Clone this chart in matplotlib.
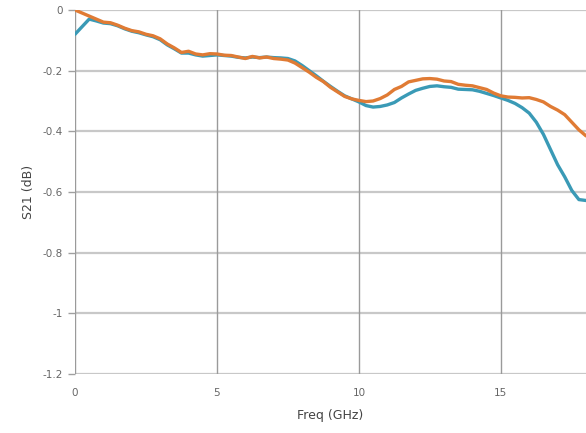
import matplotlib
matplotlib.use("Agg")
import matplotlib.pyplot as plt

freq = [0, 0.25, 0.5, 0.75, 1.0, 1.25, 1.5, 1.75, 2.0, 2.25, 2.5, 2.75, 3.0, 3.25, 3.5, 3.75,
        4.0, 4.25, 4.5, 4.75, 5.0, 5.25, 5.5, 5.75, 6.0, 6.25, 6.5, 6.75, 7.0, 7.25, 7.5, 7.75,
        8.0, 8.25, 8.5, 8.75, 9.0, 9.25, 9.5, 9.75, 10.0, 10.25, 10.5, 10.75, 11.0, 11.25, 11.5,
        11.75, 12.0, 12.25, 12.5, 12.75, 13.0, 13.25, 13.5, 13.75, 14.0, 14.25, 14.5, 14.75,
        15.0, 15.25, 15.5, 15.75, 16.0, 16.25, 16.5, 16.75, 17.0, 17.25, 17.5, 17.75, 18.0]

s21_orange = [0.0, -0.01, -0.02, -0.03, -0.04, -0.042, -0.05, -0.06, -0.068, -0.072, -0.08, -0.085,
              -0.095, -0.112, -0.125, -0.14, -0.136, -0.145, -0.148, -0.144, -0.145, -0.149, -0.15,
              -0.155, -0.16, -0.153, -0.158, -0.155, -0.16, -0.162, -0.165, -0.175, -0.19, -0.205,
              -0.222, -0.236, -0.255, -0.27, -0.285, -0.293, -0.298, -0.302, -0.3, -0.292, -0.28,
              -0.262, -0.252, -0.237, -0.232, -0.227, -0.226, -0.228, -0.234, -0.236, -0.245, -0.248,
              -0.25, -0.256, -0.262, -0.274, -0.283, -0.287, -0.288, -0.29, -0.289, -0.295, -0.303,
              -0.318, -0.33, -0.345, -0.37, -0.395, -0.415]

s21_teal = [-0.08, -0.055, -0.03, -0.036, -0.043, -0.045, -0.052, -0.062, -0.07, -0.075, -0.082, -0.088,
            -0.098, -0.115, -0.128, -0.142, -0.142, -0.148, -0.152, -0.15, -0.148, -0.15, -0.152,
            -0.156, -0.158, -0.155, -0.157, -0.155, -0.157, -0.158, -0.16, -0.168, -0.183, -0.2,
            -0.217, -0.235, -0.252, -0.268, -0.283, -0.293, -0.303, -0.315, -0.32, -0.318, -0.313,
            -0.305, -0.29, -0.277, -0.265, -0.258, -0.252, -0.25, -0.253, -0.255, -0.261, -0.262,
            -0.263, -0.268, -0.275, -0.282, -0.29, -0.298, -0.308, -0.322, -0.34, -0.37, -0.41,
            -0.46, -0.51, -0.55, -0.595, -0.625, -0.628]

xticks = [0, 5, 10, 15]
yticks = [0, -0.2, -0.4, -0.6, -0.8, -1.0, -1.2]
ytick_labels = ["0", "-0.2", "-0.4", "-0.6", "-0.8", "-1", "-1.2"]

fig = plt.figure(figsize=(5.86, 4.33), dpi=100)
ax = fig.add_axes([75/586, 59/433, 1 - 75/586, (374 - 10)/433])

ax.plot(freq, s21_teal, color="#3a9ab6", lw=2.4, solid_capstyle="round")
ax.plot(freq, s21_orange, color="#e07b34", lw=2.4, solid_capstyle="round")

ax.set_xlim(0, 18)
ax.set_ylim(-1.2, 0)
ax.set_xticks(xticks)
ax.set_yticks(yticks)
ax.set_yticklabels(ytick_labels)
for y in yticks:
    ax.axhline(y, color="#c8c8c8", lw=1.6, zorder=0)
for x in xticks:
    ax.axvline(x, color="#9a9a9a", lw=1.0, zorder=0)
for s in ax.spines.values():
    s.set_visible(False)
ax.tick_params(axis="both", colors="#a0a0a0", labelcolor="#666666", labelsize=7.5, length=5, width=1)
ax.tick_params(axis="y", pad=4)
ax.tick_params(axis="x", length=0, pad=10)
ax.set_xlabel("Freq (GHz)", fontsize=9, color="#444444", labelpad=8)
ax.set_ylabel("S21 (dB)", fontsize=9, color="#444444", labelpad=5)

fig.savefig("out.png", dpi=100)
